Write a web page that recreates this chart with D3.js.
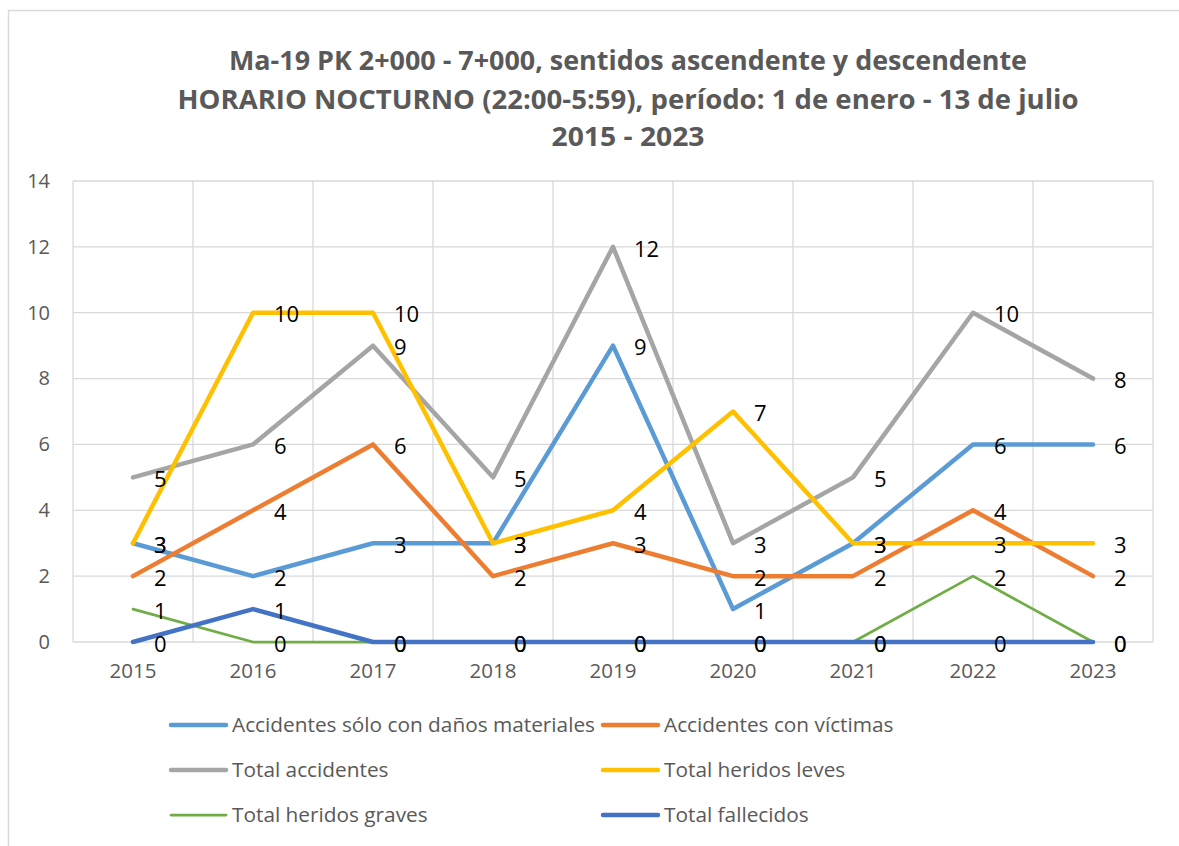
<!DOCTYPE html>
<html>
<head>
<meta charset="utf-8">
<script src="https://cdn.jsdelivr.net/npm/d3@7"></script>
<style>
  html, body { margin: 0; padding: 0; background: #fff; }
  svg { display: block; }
</style>
</head>
<body>
<svg id="chart" width="1179" height="846"></svg>
<script>
// ---------- data ----------
const years = ["2015", "2016", "2017", "2018", "2019", "2020", "2021", "2022", "2023"];
const danosMateriales = [3, 2, 3, 3, 9, 1, 3, 6, 6];
const conVictimas     = [2, 4, 6, 2, 3, 2, 2, 4, 2];
const totalAccidentes = [5, 6, 9, 5, 12, 3, 5, 10, 8];
const heridosLeves    = [3, 10, 10, 3, 4, 7, 3, 3, 3];
const heridosGraves   = [1, 0, 0, 0, 0, 0, 0, 2, 0];
const fallecidos      = [0, 1, 0, 0, 0, 0, 0, 0, 0];
const yTicks = [0, 2, 4, 6, 8, 10, 12, 14];
const seriesNames = [
  "Accidentes sólo con daños materiales",
  "Accidentes con víctimas",
  "Total accidentes",
  "Total heridos leves",
  "Total heridos graves",
  "Total fallecidos"
];
const titleLines = [
  "Ma-19 PK 2+000 - 7+000, sentidos ascendente y descendente",
  "HORARIO NOCTURNO (22:00-5:59), período: 1 de enero - 13 de julio",
  "2015 - 2023"
];

const seriesValues = [danosMateriales, conVictimas, totalAccidentes, heridosLeves, heridosGraves, fallecidos];
const colors = ["#5B9BD5", "#ED7D31", "#A5A5A5", "#FFC000", "#70AD47", "#4472C4"];
const widths = [4.5, 4.5, 4.5, 4.5, 2.75, 4.5];

const series = seriesNames.map((name, i) => ({
  name, color: colors[i], width: widths[i],
  values: seriesValues[i].map((v, j) => ({ year: years[j], value: v }))
}));

// ---------- layout ----------
const svg = d3.select("#chart");
const FONT = "'Open Sans', 'Liberation Sans', sans-serif";
const plot = { left: 73, right: 1153, top: 181, bottom: 642 };

// chart border (only top and left visible in the reference crop)
svg.append("line").attr("x1", 8).attr("x2", 1179).attr("y1", 10.5).attr("y2", 10.5)
  .attr("stroke", "#d9d9d9").attr("stroke-width", 1.5);
svg.append("line").attr("x1", 8.5).attr("x2", 8.5).attr("y1", 10).attr("y2", 846)
  .attr("stroke", "#d9d9d9").attr("stroke-width", 1.5);

const x = d3.scaleBand().domain(years).range([plot.left, plot.right]).padding(0);
const xc = d => x(d) + x.bandwidth() / 2;
const y = d3.scaleLinear().domain([0, 14]).range([plot.bottom, plot.top]);

// title
const titleY = [70, 109, 146];
const titleW = [798, 901, 153];
titleLines.forEach((t, i) => {
  svg.append("text")
    .attr("x", 628).attr("y", titleY[i])
    .attr("text-anchor", "middle")
    .attr("font-family", FONT).attr("font-weight", "bold")
    .attr("font-size", 26).attr("fill", "#595959")
    .attr("textLength", titleW[i]).attr("lengthAdjust", "spacingAndGlyphs")
    .text(t);
});

// gridlines
const grid = svg.append("g");
grid.selectAll("line.h").data(yTicks).join("line")
  .attr("x1", plot.left).attr("x2", plot.right)
  .attr("y1", d => y(d)).attr("y2", d => y(d))
  .attr("stroke", "#d9d9d9").attr("stroke-width", 1.3);
const vlines = years.map(yy => x(yy)).concat([plot.right]);
grid.selectAll("line.v").data(vlines).join("line")
  .attr("x1", d => d).attr("x2", d => d)
  .attr("y1", plot.top).attr("y2", plot.bottom)
  .attr("stroke", "#d9d9d9").attr("stroke-width", 1.3);

// axes
const yAxis = svg.append("g").attr("transform", `translate(${plot.left - 23},0)`)
  .call(d3.axisLeft(y).tickValues(yTicks).tickSize(0).tickPadding(0));
yAxis.select(".domain").remove();
yAxis.selectAll("text").attr("font-family", FONT).attr("font-size", 20).attr("fill", "#595959");

const xAxis = svg.append("g").attr("transform", `translate(0,${plot.bottom + 21})`)
  .call(d3.axisBottom(x).tickSize(0).tickPadding(0));
xAxis.select(".domain").remove();
xAxis.selectAll("text").attr("font-family", FONT).attr("font-size", 20.5).attr("fill", "#595959");

// lines
const line = d3.line().x(d => xc(d.year)).y(d => y(d.value));
svg.append("g").selectAll("path").data(series).join("path")
  .attr("d", d => line(d.values))
  .attr("fill", "none")
  .attr("stroke", d => d.color)
  .attr("stroke-width", d => d.width)
  .attr("stroke-linejoin", "round")
  .attr("stroke-linecap", "round");

// data labels
const lab = svg.append("g");
series.forEach(s => {
  lab.selectAll(null).data(s.values).join("text")
    .attr("x", d => xc(d.year) + 21)
    .attr("y", d => y(d.value) + 2)
    .attr("dy", "0.35em")
    .attr("font-family", FONT).attr("font-size", 22).attr("fill", "#000")
    .text(d => d.value);
});

// legend
const legX = [171, 603];
const legY = [725, 770, 815];
const leg = svg.append("g");
series.forEach((s, i) => {
  const col = i % 2, row = Math.floor(i / 2);
  const g = leg.append("g").attr("transform", `translate(${legX[col]},${legY[row]})`);
  g.append("line").attr("x1", 0).attr("x2", 55).attr("y1", 0).attr("y2", 0)
    .attr("stroke", s.color).attr("stroke-width", s.width).attr("stroke-linecap", "round");
  g.append("text").attr("x", 61).attr("y", 0).attr("dy", "0.35em")
    .attr("font-family", FONT).attr("font-size", 20.8).attr("fill", "#595959")
    .text(s.name);
});
</script>
</body>
</html>
